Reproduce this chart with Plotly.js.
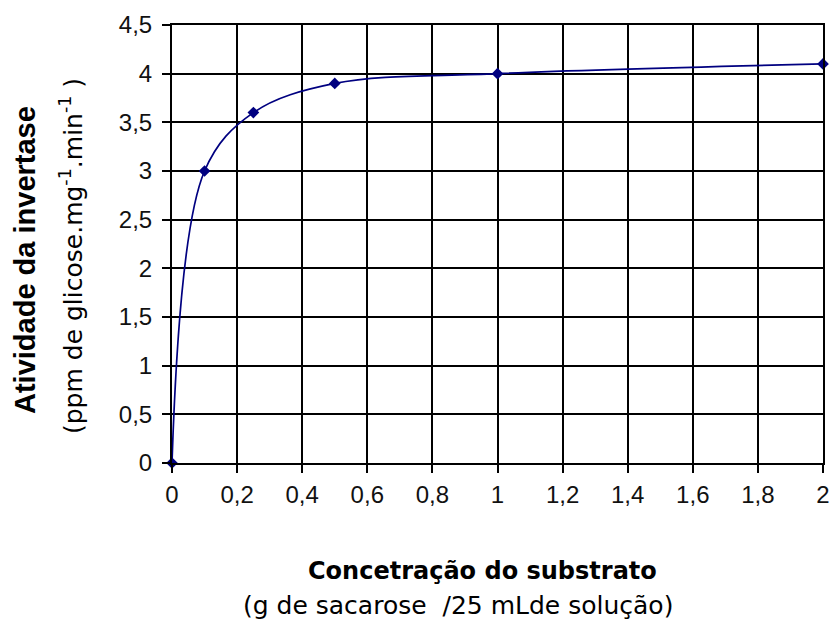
<!DOCTYPE html>
<html>
<head>
<meta charset="utf-8">
<script src="https://cdn.plot.ly/plotly-3.0.1.min.js"></script>
<style>html,body{margin:0;padding:0;background:#fff;}#chart{width:832px;height:621px;}</style>
</head>
<body>
<div id="chart"></div>
<script>
const concentracao = [0, 0.1, 0.25, 0.5, 1, 2];
const atividade = [0, 3, 3.6, 3.9, 4, 4.1];
const xTickVals = [0, 0.2, 0.4, 0.6, 0.8, 1, 1.2, 1.4, 1.6, 1.8, 2];
const yTickVals = [0, 0.5, 1, 1.5, 2, 2.5, 3, 3.5, 4, 4.5];

const W = 832, H = 621;
const M = {l: 172, r: 9, t: 25, b: 158};
const plotH = H - M.t - M.b;
const plotW = W - M.l - M.r;
const px = v => (v - M.l) / plotW;
const py = v => (H - M.b - v) / plotH;

const trace = {
  x: concentracao,
  y: atividade,
  type: 'scatter',
  mode: 'lines+markers',
  line: {color: '#000080', width: 1.7, shape: 'spline', smoothing: 1},
  marker: {color: '#000080', symbol: 'diamond', size: 9},
  cliponaxis: false,
  hoverinfo: 'skip'
};

const axisCommon = {
  showgrid: true, gridcolor: '#000', gridwidth: 2,
  showline: true, linecolor: '#000', linewidth: 2, mirror: true,
  ticks: 'outside', ticklen: 8, tickwidth: 2, tickcolor: '#000',
  zeroline: false,
  tickfont: {family: 'Liberation Sans, Arial, sans-serif', size: 24, color: '#111'},
  tickmode: 'array'
};

const layout = {
  width: W, height: H,
  margin: M,
  paper_bgcolor: '#fff', plot_bgcolor: '#fff',
  separators: ',.',
  showlegend: false,
  xaxis: Object.assign({}, axisCommon, {range: [0, 2], tickvals: xTickVals, ticklabelstandoff: 1}),
  yaxis: Object.assign({}, axisCommon, {range: [0, 4.5], tickvals: yTickVals, ticklabelstandoff: 5}),
  annotations: [
    {text: '<b>Concetração do substrato</b>', xref: 'paper', yref: 'paper',
     x: px(482), y: py(571), xanchor: 'center', yanchor: 'middle', showarrow: false,
     font: {family: 'DejaVu Sans, Verdana, sans-serif', size: 24, color: '#000'}},
    {text: '(g de sacarose  /25 mLde solução)', xref: 'paper', yref: 'paper',
     x: px(458), y: py(605), xanchor: 'center', yanchor: 'middle', showarrow: false,
     font: {family: 'DejaVu Sans, Verdana, sans-serif', size: 25, color: '#000'}},
    {text: '<b>Atividade da invertase</b>', xref: 'paper', yref: 'paper',
     x: px(25), y: py(260), xanchor: 'center', yanchor: 'middle', showarrow: false, textangle: -90,
     font: {family: 'Liberation Sans, Arial, sans-serif', size: 29, color: '#000'}},
    {text: '(ppm de glicose.mg<sup>-1</sup>.min<sup>-1</sup> )', xref: 'paper', yref: 'paper',
     x: px(71), y: py(256), xanchor: 'center', yanchor: 'middle', showarrow: false, textangle: -90,
     font: {family: 'DejaVu Sans, Verdana, sans-serif', size: 25, color: '#000'}}
  ],
  hovermode: false
};

Plotly.newPlot('chart', [trace], layout, {displayModeBar: false, staticPlot: true});
</script>
</body>
</html>
